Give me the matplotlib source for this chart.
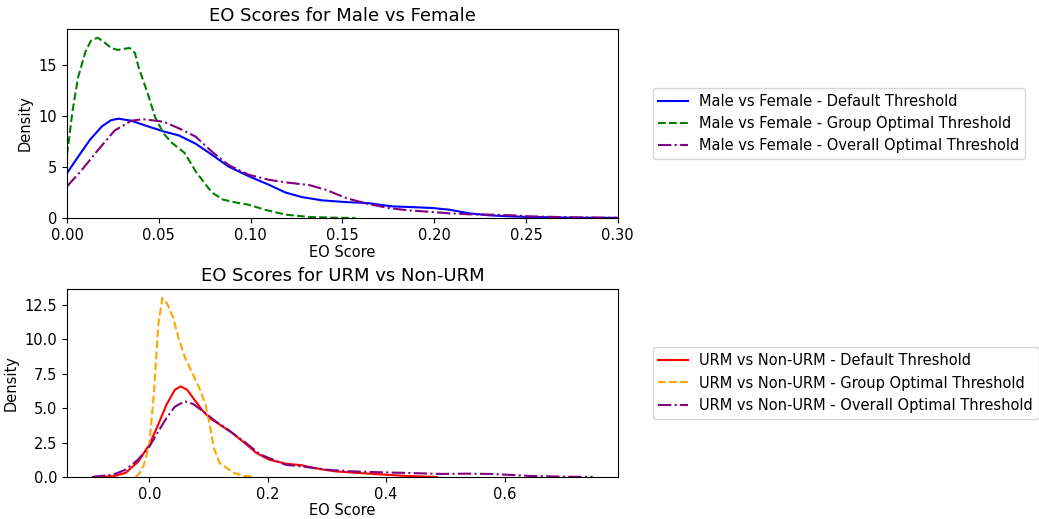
import matplotlib
matplotlib.use("Agg")
import matplotlib.pyplot as plt

# ---- Male vs Female (density curves) ----
mf_default_x = [0.0, 0.006, 0.0126, 0.019, 0.024, 0.028, 0.035, 0.044, 0.0526, 0.061, 0.070,
                0.079, 0.088, 0.099, 0.110, 0.119, 0.128, 0.139, 0.152, 0.1635, 0.177,
                0.186, 0.199, 0.208, 0.219, 0.230, 0.241, 0.252, 0.274, 0.30]
mf_default_y = [4.4, 6.0, 7.7, 9.0, 9.6, 9.75, 9.55, 9.0, 8.5, 8.1, 7.3,
                6.2, 5.05, 4.1, 3.26, 2.5, 2.05, 1.73, 1.56, 1.47, 1.14,
                1.08, 0.98, 0.82, 0.46, 0.26, 0.16, 0.1, 0.03, 0.01]

mf_group_x = [0.0, 0.003, 0.006, 0.010, 0.013, 0.0167, 0.020, 0.024, 0.0276, 0.031, 0.034,
              0.037, 0.039, 0.044, 0.048, 0.0526, 0.057, 0.064, 0.070, 0.075, 0.079,
              0.085, 0.0925, 0.099, 0.108, 0.119, 0.132, 0.145, 0.157]
mf_group_y = [6.2, 10.5, 13.8, 16.3, 17.4, 17.7, 17.3, 16.7, 16.5, 16.6, 16.7,
              16.2, 14.8, 12.2, 9.9, 8.3, 7.4, 6.4, 4.6, 3.4, 2.5,
              1.8, 1.5, 1.3, 0.8, 0.33, 0.1, 0.03, 0.0]

mf_overall_x = [0.0, 0.008, 0.017, 0.026, 0.035, 0.0415, 0.0526, 0.061, 0.070, 0.079,
                0.088, 0.099, 0.110, 0.119, 0.132, 0.141, 0.152, 0.1635, 0.175, 0.186,
                0.199, 0.208, 0.219, 0.230, 0.243, 0.252, 0.274, 0.30]
mf_overall_y = [3.1, 4.7, 6.7, 8.6, 9.55, 9.7, 9.45, 8.8, 8.0, 6.5,
                5.2, 4.24, 3.75, 3.5, 3.23, 2.77, 1.96, 1.4, 0.98, 0.75,
                0.59, 0.46, 0.36, 0.33, 0.26, 0.16, 0.07, 0.02]

# ---- URM vs Non-URM ----
urm_default_x = [-0.092, -0.061, -0.040, -0.019, 0.0, 0.015, 0.029, 0.043, 0.053, 0.064,
                 0.078, 0.091, 0.102, 0.119, 0.140, 0.161, 0.181, 0.202, 0.230, 0.257,
                 0.285, 0.313, 0.354, 0.396, 0.437, 0.486]
urm_default_y = [0.0, 0.05, 0.3, 1.1, 2.35, 3.8, 5.25, 6.33, 6.58, 6.33,
                 5.5, 4.76, 4.28, 3.8, 3.2, 2.47, 1.74, 1.26, 0.97, 0.85,
                 0.6, 0.41, 0.29, 0.17, 0.07, 0.0]

urm_group_x = [-0.023, -0.016, -0.009, 0.0, 0.008, 0.015, 0.022, 0.030, 0.040, 0.050,
               0.060, 0.071, 0.084, 0.095, 0.102, 0.109, 0.119, 0.129, 0.143, 0.161, 0.178]
urm_group_y = [0.0, 0.3, 0.9, 2.35, 6.2, 11.0, 13.0, 12.6, 11.6, 10.0,
               8.7, 7.7, 6.5, 5.25, 3.8, 2.1, 1.0, 0.7, 0.29, 0.07, 0.0]

urm_overall_x = [-0.097, -0.061, -0.040, -0.019, 0.0, 0.015, 0.029, 0.043, 0.060, 0.074,
                 0.091, 0.112, 0.133, 0.161, 0.188, 0.209, 0.230, 0.264, 0.299, 0.340,
                 0.389, 0.437, 0.493, 0.541, 0.576, 0.610, 0.645, 0.700, 0.749]
urm_overall_y = [0.0, 0.17, 0.53, 1.26, 2.2, 3.3, 4.28, 5.1, 5.5, 5.3,
                 4.76, 4.04, 3.43, 2.54, 1.62, 1.26, 0.89, 0.73, 0.53, 0.41,
                 0.34, 0.29, 0.22, 0.24, 0.22, 0.15, 0.07, 0.02, 0.0]

fs = 10.5

fig = plt.figure(figsize=(10.39, 5.19), dpi=100)

# top panel
ax1 = fig.add_axes([0.0645, 0.580, 0.530, 0.364])
ax1.plot(mf_default_x, mf_default_y, color="blue", linestyle="-", linewidth=1.5,
         label="Male vs Female - Default Threshold")
ax1.plot(mf_group_x, mf_group_y, color="green", linestyle="--", linewidth=1.5,
         label="Male vs Female - Group Optimal Threshold")
ax1.plot(mf_overall_x, mf_overall_y, color="purple", linestyle="-.", linewidth=1.5,
         label="Male vs Female - Overall Optimal Threshold")
ax1.set_xlim(0, 0.30)
ax1.set_ylim(0, 18.55)
ax1.set_title("EO Scores for Male vs Female", fontsize=13)
ax1.set_xlabel("EO Score", fontsize=fs, labelpad=2)
ax1.set_ylabel("Density", fontsize=fs)
ax1.tick_params(labelsize=fs)
ax1.legend(loc="center left", bbox_to_anchor=(1.05, 0.5), fontsize=fs)

# bottom panel
ax2 = fig.add_axes([0.0645, 0.081, 0.530, 0.362])
ax2.plot(urm_default_x, urm_default_y, color="red", linestyle="-", linewidth=1.5,
         label="URM vs Non-URM - Default Threshold")
ax2.plot(urm_group_x, urm_group_y, color="orange", linestyle="--", linewidth=1.5,
         label="URM vs Non-URM - Group Optimal Threshold")
ax2.plot(urm_overall_x, urm_overall_y, color="purple", linestyle="-.", linewidth=1.5,
         label="URM vs Non-URM - Overall Optimal Threshold")
ax2.set_xlim(-0.139, 0.791)
ax2.set_ylim(0, 13.65)
ax2.set_title("EO Scores for URM vs Non-URM", fontsize=13)
ax2.set_xlabel("EO Score", fontsize=fs, labelpad=1)
ax2.set_ylabel("Density", fontsize=fs)
ax2.tick_params(labelsize=fs)
ax2.legend(loc="center left", bbox_to_anchor=(1.05, 0.5), fontsize=fs)

fig.savefig("out.png", dpi=100)
